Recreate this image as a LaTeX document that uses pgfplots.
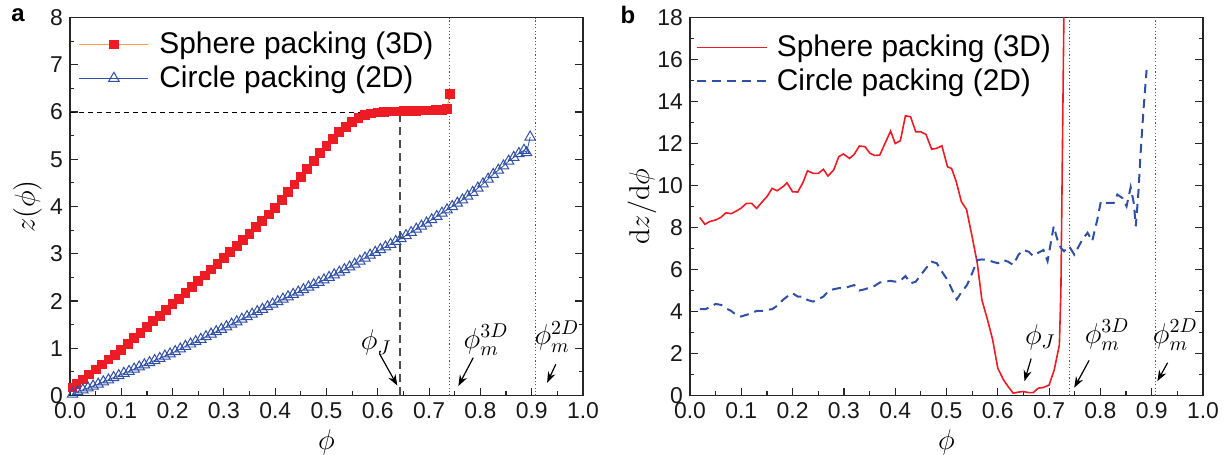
\documentclass[border=0pt]{standalone}
\usepackage{pgfplots}
\pgfplotsset{compat=1.18}
\usepackage[no-math]{fontspec}
\setmainfont{Liberation Sans}
\usetikzlibrary{arrows.meta}
\definecolor{myred}{HTML}{ED1C24}
\definecolor{myblue}{HTML}{3050A8}
\definecolor{myorange}{HTML}{F5A05A}
\pgfplotsset{
  base/.style={
    scale only axis, width=256.5bp, height=189bp,
    xmin=0, xmax=1,
    xtick={0,0.1,0.2,0.3,0.4,0.5,0.6,0.7,0.8,0.9,1},
    minor x tick num=1,
    x tick label style={/pgf/number format/.cd, fixed, fixed zerofill, precision=1, /tikz/.cd},
    xtick pos=bottom, ytick pos=both,
    tick align=inside,
    major tick length=3.8bp, minor tick length=2.2bp,
    every tick/.style={line width=0.6bp, black!85},
    axis line style={line width=0.75bp, black!85},
    ticklabel style={font=\fontsize{11.5}{13}\selectfont, text=black!90},
    /pgf/number format/assume math mode=true,
    label style={font=\fontsize{14.5}{16}\selectfont},
    xlabel style={at={(axis description cs:0.5,-0.1243)}, anchor=center},
    legend cell align=left,
  },
}
\tikzset{
  ann/.style={font=\fontsize{14}{16}\selectfont},
  arr/.style={-{Stealth[length=5.5bp,width=4bp]}, line width=0.6bp},
  dotv/.style={black!65, line width=0.55bp, dash pattern=on 0.6bp off 1.1bp},
}
\begin{document}
\begin{tikzpicture}
\path[use as bounding box] (-35bp,-29.5bp) rectangle (577bp,197.75bp);
% ---------------- panel a
\begin{axis}[base,
  ymin=0, ymax=8, ytick={0,1,2,3,4,5,6,7,8}, minor y tick num=1,
  xlabel={$\phi$}, ylabel={$z(\phi)$},
  ylabel style={at={(axis description cs:-0.0828,0.5)}, anchor=center},
  legend style={at={(axis description cs:0,1)}, anchor=north west, xshift=4.25bp, yshift=-6.1bp,
    draw=none, fill=none, inner sep=0pt, font=\fontsize{15}{18}\selectfont, row sep=2.6bp,
    nodes={inner xsep=2.25bp, inner ysep=1bp}},
  legend image code/.code={\draw[mark repeat=2,mark phase=2,#1] plot coordinates {(0bp,0bp) (17.25bp,0bp) (34.5bp,0bp)};\path (37.5bp,0bp);},
]
\addplot[myorange, line width=0.5bp, mark=square*, mark size=2.2bp, mark options={draw=myred, fill=myred, solid}] coordinates {
(0.005,0.17)(0.0125,0.24)(0.025,0.34)(0.0375,0.445)(0.05,0.55)(0.0625,0.655)(0.075,0.76)(0.0875,0.865)
(0.1,0.97)(0.1125,1.09)(0.125,1.21)(0.1375,1.33)(0.15,1.45)(0.1625,1.57)(0.175,1.69)(0.1875,1.81)
(0.2,1.93)(0.2125,2.05)(0.225,2.175)(0.2375,2.30)(0.25,2.42)(0.2625,2.54)(0.275,2.665)(0.2875,2.79)
(0.3,2.91)(0.3125,3.035)(0.325,3.165)(0.3375,3.295)(0.35,3.425)(0.3625,3.56)(0.375,3.695)(0.3875,3.83)
(0.4,3.97)(0.4125,4.135)(0.425,4.30)(0.4375,4.465)(0.45,4.63)(0.4625,4.795)(0.475,4.96)(0.4875,5.13)
(0.5,5.28)(0.5125,5.43)(0.525,5.57)(0.5375,5.69)(0.55,5.79)(0.5625,5.87)(0.575,5.93)(0.5875,5.97)
(0.6,5.99)(0.6125,6.00)(0.625,6.01)(0.6375,6.01)(0.65,6.02)(0.6625,6.02)(0.675,6.02)(0.6875,6.03)
(0.7,6.03)(0.7125,6.04)(0.725,6.05)(0.735,6.06)(0.74,6.38)};
\addlegendentry{Sphere packing (3D)}
\addplot[myblue, line width=0.4bp, mark=triangle, mark size=3bp, mark options={draw=myblue, line width=0.5bp, solid}] coordinates {
(0.005,0.03)(0.015,0.08)(0.025,0.12)(0.035,0.16)(0.045,0.20)(0.055,0.24)(0.065,0.29)(0.075,0.33)(0.085,0.38)(0.095,0.42)
(0.105,0.47)(0.115,0.51)(0.125,0.56)(0.135,0.605)(0.145,0.65)(0.155,0.695)(0.165,0.74)(0.175,0.785)(0.185,0.835)(0.195,0.88)
(0.205,0.93)(0.215,0.985)(0.225,1.04)(0.235,1.09)(0.245,1.14)(0.255,1.19)(0.265,1.245)(0.275,1.30)(0.285,1.35)(0.295,1.40)
(0.305,1.455)(0.315,1.51)(0.325,1.56)(0.335,1.615)(0.345,1.67)(0.355,1.72)(0.365,1.775)(0.375,1.825)(0.385,1.88)(0.395,1.935)
(0.405,1.985)(0.415,2.04)(0.425,2.09)(0.435,2.14)(0.445,2.19)(0.455,2.24)(0.465,2.295)(0.475,2.345)(0.485,2.395)(0.495,2.445)
(0.505,2.50)(0.515,2.555)(0.525,2.61)(0.535,2.665)(0.545,2.72)(0.555,2.78)(0.565,2.845)(0.575,2.91)(0.585,2.97)(0.595,3.03)
(0.605,3.09)(0.615,3.145)(0.625,3.20)(0.635,3.26)(0.645,3.32)(0.655,3.385)(0.665,3.45)(0.675,3.52)(0.685,3.585)(0.695,3.65)
(0.705,3.72)(0.715,3.79)(0.725,3.86)(0.735,3.93)(0.745,4.00)(0.755,4.07)(0.765,4.14)(0.775,4.22)(0.785,4.30)(0.795,4.39)
(0.805,4.48)(0.815,4.58)(0.825,4.68)(0.835,4.77)(0.845,4.86)(0.855,4.96)(0.865,5.04)(0.875,5.12)(0.885,5.19)(0.89,5.14)(0.897,5.47)};
\addlegendentry{Circle packing (2D)}
\addplot[black, line width=0.5bp, dash pattern=on 2.5bp off 2bp, forget plot] coordinates {(0,6) (0.643,6)};
\addplot[black!70, line width=0.7bp, dash pattern=on 4bp off 2.5bp, forget plot] coordinates {(0.643,0) (0.643,6)};
\addplot[dotv, forget plot] coordinates {(0.74,0) (0.74,8)};
\addplot[dotv, forget plot] coordinates {(0.9069,0) (0.9069,8)};
\node[ann] at (axis cs:0.597,1.12) {$\phi_J$};
\draw[arr] (axis cs:0.603,0.89) -- (axis cs:0.638,0.21);
\node[ann] at (axis cs:0.811,1.18) {$\phi_m^{3D}$};
\draw[arr] (axis cs:0.786,0.80) -- (axis cs:0.757,0.20);
\node[ann] at (axis cs:0.949,1.25) {$\phi_m^{2D}$};
\draw[arr] (axis cs:0.947,0.66) -- (axis cs:0.930,0.27);
\end{axis}
\node[font=\bfseries\fontsize{12}{14}\selectfont] at (-26bp,190.25bp) {a};
% ---------------- panel b
\begin{axis}[base, at={(310bp,0)}, anchor=south west,
  ymin=0, ymax=18, ytick={0,2,4,6,8,10,12,14,16,18}, minor y tick num=1,
  xlabel={$\phi$}, ylabel={$\mathrm{d}z/\mathrm{d}\phi$},
  ylabel style={at={(axis description cs:-0.0936,0.5)}, anchor=center},
  legend style={at={(axis description cs:0,1)}, anchor=north west, xshift=3bp, yshift=-7.6bp,
    draw=none, fill=none, inner sep=0pt, font=\fontsize{15}{18}\selectfont, row sep=2.6bp,
    nodes={inner xsep=2.25bp, inner ysep=1bp}},
  legend image code/.code={\draw[#1] (0bp,0bp) -- (35bp,0bp);\path (37bp,0bp);},
]
\addplot[myred, line width=0.8bp] coordinates {
(0.019,8.48)(0.029,8.15)(0.038,8.28)(0.05,8.36)(0.06,8.48)(0.07,8.70)(0.08,8.66)(0.09,8.78)(0.099,8.91)
(0.11,9.15)(0.12,9.15)(0.13,8.91)(0.141,9.23)(0.15,9.47)(0.16,9.86)(0.17,9.75)(0.181,9.94)(0.189,10.13)
(0.2,9.70)(0.21,9.69)(0.22,10.13)(0.229,10.70)(0.24,10.58)(0.25,10.58)(0.26,10.77)(0.269,10.45)(0.28,10.74)
(0.29,11.37)(0.299,11.50)(0.311,11.29)(0.32,11.48)(0.33,11.88)(0.341,11.85)(0.351,11.53)(0.36,11.43)(0.37,11.45)
(0.38,12.00)(0.391,12.59)(0.4,12.00)(0.41,12.13)(0.42,13.32)(0.43,13.27)(0.44,12.56)(0.45,12.56)(0.46,12.43)
(0.471,11.73)(0.481,11.77)(0.491,11.89)(0.502,10.89)(0.51,10.81)(0.519,10.18)(0.529,9.23)(0.539,8.86)
(0.55,7.56)(0.56,6.30)(0.569,4.55)(0.58,3.60)(0.59,2.65)(0.6,1.30)(0.611,0.75)(0.62,0.43)(0.63,0.11)
(0.64,0.16)(0.649,0.19)(0.66,0.14)(0.669,0.14)(0.679,0.35)(0.689,0.38)(0.7,0.50)(0.71,1.22)(0.72,2.41)
(0.723,5.0)(0.729,18.5)};
\addlegendentry{Sphere packing (3D)}
\addplot[myblue, line width=1bp, dash pattern=on 4.5bp off 3bp] coordinates {
(0.019,4.11)(0.03,4.11)(0.04,4.23)(0.05,4.36)(0.061,4.31)(0.07,4.15)(0.08,4.03)(0.09,3.84)(0.099,3.76)
(0.11,3.84)(0.12,3.92)(0.13,4.03)(0.141,4.03)(0.15,4.08)(0.16,4.11)(0.17,4.27)(0.181,4.55)(0.191,4.74)
(0.2,4.87)(0.21,4.71)(0.22,4.71)(0.229,4.55)(0.24,4.47)(0.25,4.58)(0.26,4.71)(0.269,4.95)(0.28,5.06)
(0.29,5.11)(0.299,5.11)(0.311,5.19)(0.32,5.26)(0.33,5.00)(0.341,5.06)(0.351,5.15)(0.36,5.22)(0.37,5.38)
(0.38,5.42)(0.391,5.46)(0.4,5.42)(0.41,5.46)(0.42,5.69)(0.43,5.34)(0.44,5.42)(0.45,5.74)(0.46,6.06)
(0.471,6.37)(0.481,6.30)(0.491,5.90)(0.502,5.50)(0.511,5.03)(0.52,4.58)(0.53,4.95)(0.54,5.26)(0.55,5.82)
(0.56,6.45)(0.569,6.48)(0.58,6.45)(0.59,6.37)(0.6,6.30)(0.611,6.45)(0.62,6.37)(0.63,6.22)(0.64,6.69)
(0.649,6.93)(0.66,6.85)(0.669,6.64)(0.679,6.80)(0.689,6.93)(0.697,6.40)(0.709,8.06)(0.716,7.43)(0.723,7.03)
(0.729,6.87)(0.739,7.11)(0.749,6.71)(0.755,6.98)(0.765,7.43)(0.775,7.75)(0.784,7.35)(0.794,8.38)(0.801,9.25)
(0.810,9.17)(0.826,9.17)(0.833,9.57)(0.843,9.40)(0.851,9.01)(0.859,9.92)(0.865,9.17)(0.869,8.06)(0.874,9.65)
(0.878,11.4)(0.884,13.6)(0.890,15.5)};
\addlegendentry{Circle packing (2D)}
\addplot[dotv, forget plot] coordinates {(0.74,0) (0.74,18)};
\addplot[dotv, forget plot] coordinates {(0.9069,0) (0.9069,18)};
\node[ann] at (axis cs:0.683,2.78) {$\phi_J$};
\draw[arr] (axis cs:0.665,1.76) -- (axis cs:0.652,0.68);
\node[ann] at (axis cs:0.813,2.9) {$\phi_m^{3D}$};
\draw[arr] (axis cs:0.778,1.67) -- (axis cs:0.749,0.37);
\node[ann] at (axis cs:0.946,2.9) {$\phi_m^{2D}$};
\draw[arr] (axis cs:0.931,1.56) -- (axis cs:0.911,0.68);
\end{axis}
\node[font=\bfseries\fontsize{12}{14}\selectfont] at (279bp,190.25bp) {b};
\end{tikzpicture}
\end{document}
